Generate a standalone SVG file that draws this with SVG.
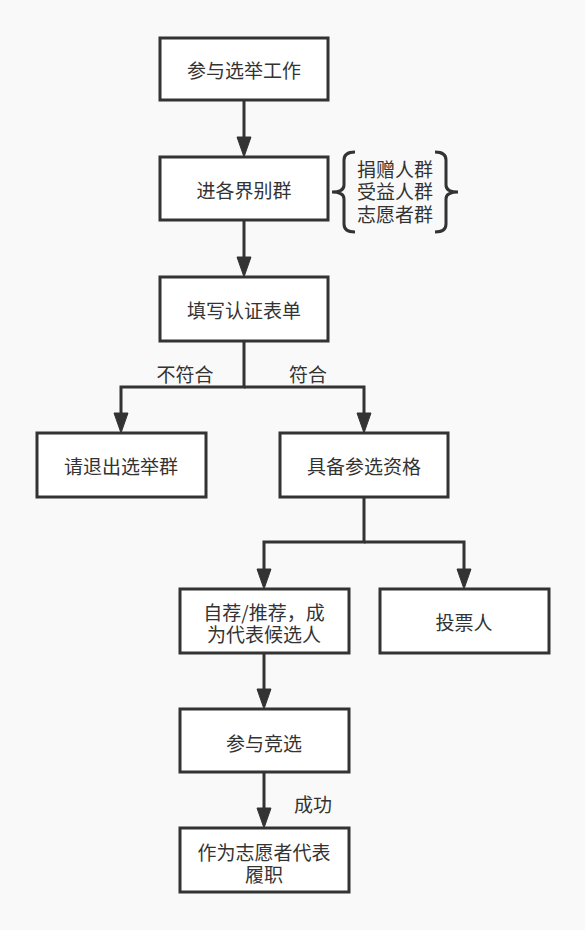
<svg xmlns="http://www.w3.org/2000/svg" width="585" height="930" viewBox="0 0 585 930">
<style>
.box{fill:#ffffff;stroke:#333333;stroke-width:3}
.line{fill:none;stroke:#333333;stroke-width:3}
.head{fill:#333333;stroke:#333333;stroke-width:1}
text{font-family:"Noto Sans CJK SC","Noto Sans",sans-serif;font-size:19px;fill:#333333;text-anchor:middle;dominant-baseline:central}
</style>
<rect width="585" height="930" fill="#f9f9f9"/>
<g id="connectors">
<line class="line" x1="244" y1="100" x2="244" y2="140"/>
<polygon class="head" points="237,137 251,137 244,157"/>
<line class="line" x1="244" y1="220" x2="244" y2="260"/>
<polygon class="head" points="237,257 251,257 244,277"/>
<polyline class="line" points="244,341 244,387 121,387 121,416"/>
<polygon class="head" points="114,413 128,413 121,433"/>
<polyline class="line" points="244,387 364,387 364,416"/>
<polygon class="head" points="357,413 371,413 364,433"/>
<polyline class="line" points="364,497 364,542 264,542 264,572"/>
<polygon class="head" points="257,569 271,569 264,589"/>
<polyline class="line" points="364,542 464,542 464,572"/>
<polygon class="head" points="457,569 471,569 464,589"/>
<line class="line" x1="264" y1="653" x2="264" y2="692"/>
<polygon class="head" points="257,689 271,689 264,709"/>
<line class="line" x1="264" y1="772" x2="264" y2="811"/>
<polygon class="head" points="257,808 271,808 264,828"/>
<text x="185" y="373">不符合</text>
<text x="308" y="373">符合</text>
<text x="313" y="803">成功</text>
</g>
<g id="n1"><rect class="box" x="160" y="38" width="168" height="62"/><text x="244" y="69">参与选举工作</text></g>
<g id="n2"><rect class="box" x="160" y="157" width="168" height="63"/><text x="244" y="189">进各界别群</text></g>
<g id="brace">
<path class="line" d="M355,152 Q344,152 344,160 L344,185 Q344,192 332,192 Q344,192 344,199 L344,224 Q344,232 355,232"/>
<path class="line" d="M435,152 Q446,152 446,160 L446,185 Q446,192 458,192 Q446,192 446,199 L446,224 Q446,232 435,232"/>
<text x="395" y="168">捐赠人群</text>
<text x="395" y="190">受益人群</text>
<text x="395" y="213">志愿者群</text>
</g>
<g id="n3"><rect class="box" x="160" y="277" width="168" height="64"/><text x="244" y="309">填写认证表单</text></g>
<g id="n4"><rect class="box" x="37" y="433" width="169" height="64"/><text x="121" y="465">请退出选举群</text></g>
<g id="n5"><rect class="box" x="280" y="433" width="168" height="64"/><text x="364" y="465">具备参选资格</text></g>
<g id="n6"><rect class="box" x="180" y="589" width="169" height="64"/><text x="264" y="611">自荐/推荐，成</text><text x="264" y="633">为代表候选人</text></g>
<g id="n7"><rect class="box" x="380" y="589" width="169" height="64"/><text x="464" y="621">投票人</text></g>
<g id="n8"><rect class="box" x="180" y="709" width="169" height="63"/><text x="264" y="742">参与竞选</text></g>
<g id="n9"><rect class="box" x="180" y="828" width="169" height="64"/><text x="264" y="851">作为志愿者代表</text><text x="264" y="873">履职</text></g>
</svg>
